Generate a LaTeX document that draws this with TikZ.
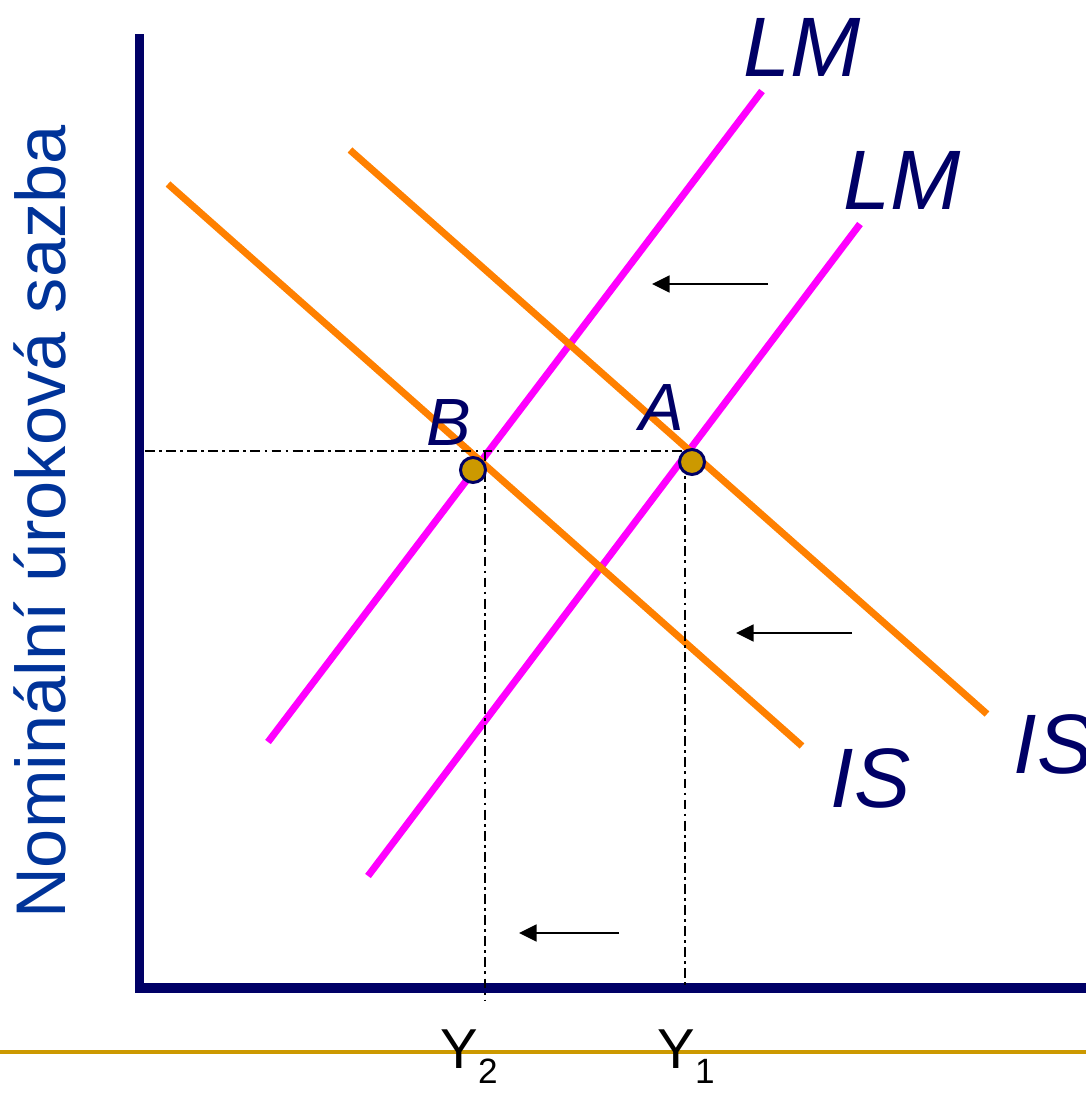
\documentclass[tikz,border=0pt]{standalone}
\usepackage{fontspec}
\setmainfont{Liberation Sans}
\usetikzlibrary{arrows.meta}

\definecolor{axisnavy}{HTML}{000066}
\definecolor{labelblue}{HTML}{003399}
\definecolor{lmpink}{HTML}{FF00FF}
\definecolor{isorange}{HTML}{FF8000}
\definecolor{eqgold}{HTML}{CC9900}

\newcommand{\ysub}[1]{\raisebox{-4.3pt}{\fontsize{10}{10}\selectfont #1}}

\begin{document}
\begin{tikzpicture}[
  x=0.01cm, y=-0.01cm,
  axis/.style={draw=axisnavy, line width=2.6pt},
  lmline/.style={draw=lmpink, line width=2pt},
  isline/.style={draw=isorange, line width=2pt},
  guide/.style={draw=black, line width=0.55pt, dash pattern=on 2.8pt off 1.2pt on 0.8pt off 1.2pt},
  movearr/.style={-{Triangle[length=5pt,width=4.8pt]}, line width=0.6pt},
  curvelab/.style={font=\fontsize{24}{24}\selectfont\itshape, text=axisnavy, inner sep=0pt, anchor=base west},
  pointlab/.style={font=\fontsize{19}{19}\selectfont\itshape, text=axisnavy, inner sep=0pt, anchor=base west},
  eq/.style={circle, fill=eqgold, draw=axisnavy, line width=0.85pt, minimum size=0.25cm, inner sep=0pt},
  ylab/.style={font=\fontsize{16}{16}\selectfont, inner sep=0pt, anchor=base west}
]
\useasboundingbox (0,0) rectangle (1086,1114);

\coordinate (top) at (139.5,34);
\coordinate (origin) at (139.5,988);
\coordinate (right) at (1086,988);
\draw[axis] (top) -- (origin) -- (right);
\draw[draw=eqgold, line width=1.4pt] (0,1052) -- (1086,1052);

\node[rotate=90, font=\fontsize{20}{20}\selectfont, text=labelblue, inner sep=0pt] (rate) at (40,522) {Nominální úroková sazba};

\coordinate (lmoldlo) at (368,876);
\coordinate (lmoldhi) at (860,224);
\coordinate (lmnewlo) at (268,742);
\coordinate (lmnewhi) at (762,91);
\coordinate (isoldhi) at (350,150);
\coordinate (isoldlo) at (987,714);
\coordinate (isnewhi) at (168,184);
\coordinate (isnewlo) at (802,746);

\draw[lmline] (lmoldlo) -- (lmoldhi);
\draw[lmline] (lmnewlo) -- (lmnewhi);
\draw[isline] (isoldhi) -- (isoldlo);
\draw[isline] (isnewhi) -- (isnewlo);

\coordinate (rstar) at (145,451);
\coordinate (rstarA) at (690,451);
\coordinate (vbtop) at (485,451);
\coordinate (vbbot) at (485,1000);
\coordinate (vatop) at (685,462);
\coordinate (vabot) at (685,988);
\draw[guide] (rstar) -- (rstarA);
\draw[guide] (vbtop) -- (vbbot);
\draw[guide] (vatop) -- (vabot);

\node[eq] (A) at (692,462) {};
\node[eq] (B) at (473,470) {};
\node[pointlab] (Alab) at (639,430) {A};
\node[pointlab] (Blab) at (426,445) {B};

\node[curvelab] (lmnew) at (743,76) {LM};
\node[curvelab] (lmold) at (843,209) {LM};
\node[curvelab] (isold) at (1013,773) {IS};
\node[curvelab] (isnew) at (830,807) {IS};

\coordinate (m1s) at (768,284);
\coordinate (m1e) at (652,284);
\coordinate (m2s) at (852,633);
\coordinate (m2e) at (736,633);
\coordinate (m3s) at (619,933);
\coordinate (m3e) at (519,933);
\draw[movearr] (m1s) -- (m1e);
\draw[movearr] (m2s) -- (m2e);
\draw[movearr] (m3s) -- (m3e);

\node[ylab] (y2) at (440,1068) {Y\ysub{2}};
\node[ylab] (y1) at (657,1068) {Y\ysub{1}};

\end{tikzpicture}
\end{document}
